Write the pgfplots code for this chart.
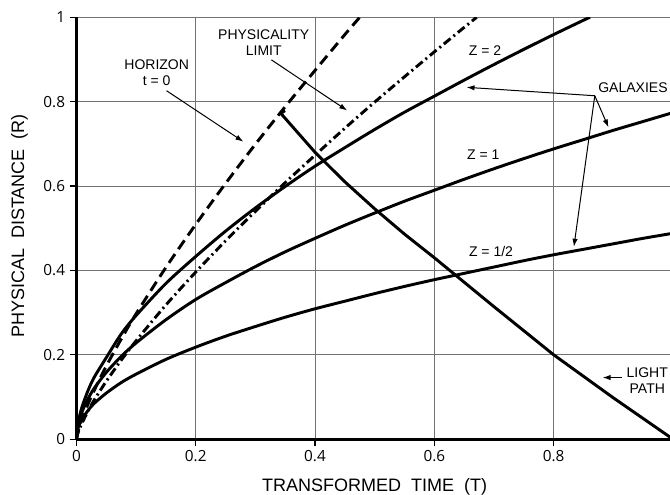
\documentclass[border=0pt]{standalone}
\usepackage{fontspec}
\setmainfont{Liberation Sans}
\newfontfamily\ticksfont{Open Sans}
\usepackage{pgfplots}
\pgfplotsset{compat=1.18}
\usetikzlibrary{arrows.meta}

\newcommand\annot{\fontsize{10.5}{12.2}\selectfont}
\newcommand\labfont{\fontsize{13.5}{16}\selectfont}

\begin{document}
\begin{tikzpicture}[
  curve/.style={line width=2.2pt, black, line join=round},
  pointer/.style={-{Latex[length=6pt,width=4pt]}, line width=0.75pt, black},
]
\begin{axis}[
  scale only axis,
  width=447.4pt, height=316.4pt,
  xmin=0, xmax=1, ymin=0, ymax=1,
  xtick={0,0.2,0.4,0.6,0.8,1},
  ytick={0,0.2,0.4,0.6,0.8,1},
  axis lines*=left,
  axis line style={line width=2.2pt, black},
  grid=major,
  grid style={black!55, line width=0.7pt},
  tick align=outside,
  major tick length=5pt,
  tick style={black, line width=0.8pt},
  tick label style={font=\ticksfont\fontsize{11.5}{13}\selectfont},
  /pgf/number format/assume math mode=true,
  clip mode=individual,
]

% horizon t = 0
\addplot[curve, smooth, dash pattern=on 8pt off 4.5pt] coordinates {
  (0,0) (0.002,0.014) (0.005,0.029) (0.01,0.049) (0.02,0.085) (0.03,0.116)
  (0.05,0.173) (0.075,0.237) (0.1,0.297) (0.15,0.407) (0.2,0.509)
  (0.25,0.606) (0.3,0.699) (0.35,0.788) (0.4,0.874) (0.45,0.959) (0.475,1.0)
};

% physicality limit
\addplot[curve, smooth, dash pattern=on 6.5pt off 2.8pt on 1.5pt off 2.8pt] coordinates {
  (0,0) (0.002,0.012) (0.005,0.024) (0.01,0.040) (0.02,0.068) (0.03,0.093)
  (0.05,0.137) (0.075,0.187) (0.1,0.233) (0.15,0.318) (0.2,0.396)
  (0.25,0.470) (0.3,0.540) (0.35,0.608) (0.4,0.673) (0.45,0.737)
  (0.5,0.799) (0.55,0.859) (0.6,0.918) (0.65,0.976) (0.671,1.0)
};

% galaxy Z = 2
\addplot[curve, smooth] coordinates {
  (0,0) (0.002,0.031) (0.005,0.053) (0.01,0.079) (0.02,0.117) (0.03,0.147)
  (0.05,0.193) (0.075,0.249) (0.1,0.293) (0.15,0.369) (0.2,0.433)
  (0.25,0.493) (0.3,0.548) (0.35,0.599) (0.4,0.647) (0.45,0.691)
  (0.5,0.734) (0.55,0.775) (0.6,0.813) (0.65,0.851) (0.7,0.888)
  (0.75,0.924) (0.8,0.959) (0.85,0.993) (0.861,1.0)
};

% galaxy Z = 1
\addplot[curve, smooth] coordinates {
  (0,0) (0.002,0.029) (0.005,0.047) (0.01,0.067) (0.02,0.097) (0.03,0.121)
  (0.05,0.158) (0.075,0.196) (0.1,0.228) (0.15,0.283) (0.2,0.331)
  (0.25,0.371) (0.3,0.409) (0.35,0.444) (0.4,0.476) (0.45,0.507)
  (0.5,0.536) (0.55,0.564) (0.6,0.590) (0.65,0.616) (0.7,0.641)
  (0.75,0.665) (0.8,0.688) (0.85,0.710) (0.9,0.732) (0.95,0.753) (1.0,0.774)
};

% galaxy Z = 1/2
\addplot[curve, smooth] coordinates {
  (0,0) (0.002,0.022) (0.005,0.035) (0.01,0.049) (0.02,0.069) (0.03,0.085)
  (0.05,0.109) (0.075,0.134) (0.1,0.154) (0.15,0.189) (0.2,0.218)
  (0.25,0.244) (0.3,0.267) (0.35,0.289) (0.4,0.309) (0.45,0.327)
  (0.5,0.345) (0.55,0.362) (0.6,0.378) (0.65,0.393) (0.7,0.408)
  (0.75,0.423) (0.8,0.437) (0.85,0.450) (0.9,0.463) (0.95,0.476) (1.0,0.488)
};

% light path
\addplot[curve] coordinates {
  (0.3497,0.7787) (0.3425,0.7725) (0.4,0.680) (0.45,0.610) (0.5,0.546)
  (0.55,0.486) (0.6,0.430) (0.7,0.314) (0.8,0.200) (0.9,0.098) (1.0,0)
};

% annotations
\node[align=center, font=\annot] at (axis cs:0.1346,0.868) {HORIZON\\t = 0};
\draw[pointer] (axis cs:0.151,0.826) -- (axis cs:0.280,0.705);

\node[align=center, font=\annot] at (axis cs:0.314,0.940) {PHYSICALITY\\LIMIT};
\draw[pointer] (axis cs:0.327,0.899) -- (axis cs:0.454,0.779);

\node[font=\annot] at (axis cs:0.685,0.922) {Z = 2};
\node[font=\annot] at (axis cs:0.682,0.674) {Z = 1};
\node[font=\annot] at (axis cs:0.695,0.444) {Z = 1/2};

\node[font=\annot] at (axis cs:0.933,0.834) {GALAXIES};
\draw[pointer] (axis cs:0.869,0.814) -- (axis cs:0.654,0.834);
\draw[pointer] (axis cs:0.869,0.814) -- (axis cs:0.892,0.739);
\draw[pointer] (axis cs:0.869,0.814) -- (axis cs:0.834,0.456);

\node[align=center, font=\annot] at (axis cs:0.957,0.139) {LIGHT\\PATH};
\draw[pointer] (axis cs:0.914,0.146) -- (axis cs:0.882,0.146);

% axis labels
\node[rotate=90, font=\labfont] at (axis cs:-0.0954,0.505) {PHYSICAL\ \ DISTANCE\ \ (R)};
\node[font=\labfont] at (axis cs:0.5,-0.112) {TRANSFORMED\ \ TIME\ \ (T)};

\coordinate (bbsw) at (axis cs:-0.1281,-0.1323);
\coordinate (bbne) at (axis cs:0.9951,1.041);
\end{axis}
\pgfresetboundingbox
\path[use as bounding box] (bbsw) rectangle (bbne);
\end{tikzpicture}
\end{document}
